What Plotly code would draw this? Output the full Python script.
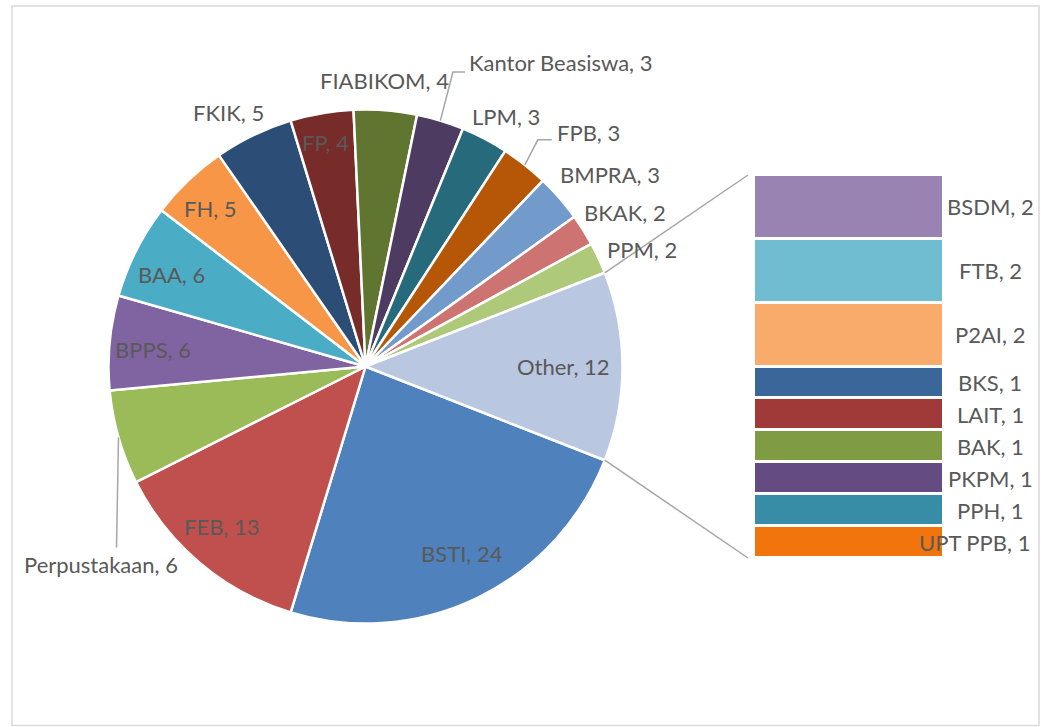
import math
import plotly.graph_objects as go

# data
main_labels = ["BSTI", "FEB", "Perpustakaan", "BPPS", "BAA", "FH", "FKIK", "FP",
               "FIABIKOM", "Kantor Beasiswa", "LPM", "FPB", "BMPRA", "BKAK", "PPM"]
main_values = [24, 13, 6, 6, 6, 5, 5, 4, 4, 3, 3, 3, 3, 2, 2]
other_labels = ["BSDM", "FTB", "P2AI", "BKS", "LAIT", "BAK", "PKPM", "PPH", "UPT PPB"]
other_values = [2, 2, 2, 1, 1, 1, 1, 1, 1]

pie_labels = main_labels + ["Other"]
pie_values = main_values + [sum(other_values)]

pie_colors = ["#4F81BD", "#C0504D", "#9BBB59", "#8064A2", "#4BACC6", "#F79646",
              "#2C4D75", "#772C2A", "#5F7530", "#4D3B62", "#276A7C", "#B65708",
              "#729ACA", "#CD7371", "#AFC97A", "#B9C7E0"]
bar_colors = ["#9983B3", "#70BCD1", "#F9AB6C", "#3A6699", "#9F3A38", "#7F9B43",
              "#644C82", "#368DA5", "#F2740D"]

# page geometry (pixels)
W, H = 1041, 727
CX, CY, R = 365.5, 366.5, 257
BAR_X0, BAR_X1, BAR_Y0, BAR_Y1 = 754, 944, 175, 558
TXT = "#595959"
FONT = "Lato"
FS = 22


def px(x, y):
    return x / W, 1 - y / H


# label placement: radial factor, nudge x, nudge y
label_style = {
    "BSTI": (0.82, 5, -3), "FEB": (0.84, -4, -5), "BPPS": (0.83, 0, 3),
    "BAA": (0.83, -3, 4), "FH": (0.86, -2, 2), "FP": (0.89, -1, 1),
    "FKIK": (1.125, -11, 6), "FIABIKOM": (1.117, -3, 0), "LPM": (1.116, 8, 4),
    "BMPRA": (1.21, 10, 12), "BKAK": (1.173, 4, 6), "PPM": (1.167, 5, 10),
    "Other": (0.77, 0, 0),
}
# labels with leader lines: elbow offsets from the slice edge, then text anchor
leader_style = {
    "Perpustakaan": ([(0, 0), (-2, 110)], (-18, 127), "center"),
    "Kantor Beasiswa": ([(0, 0), (12.6, -48.7), (24.6, -48.7)], (27, -58), "left"),
    "FPB": ([(0, 0), (13, -25), (27, -25)], (30, -32), "left"),
}

total = sum(pie_values)
rotation = 90 + 180 * pie_values[-1] / total  # "Other" centred at 3 o'clock

fig = go.Figure()

fig.add_trace(go.Pie(
    labels=pie_labels,
    values=pie_values,
    sort=False,
    direction="clockwise",
    rotation=rotation,
    textinfo="none",
    marker=dict(colors=pie_colors, line=dict(color="white", width=2.5)),
    domain=dict(x=[(CX - R) / W, (CX + R) / W], y=[1 - (CY + R) / H, 1 - (CY - R) / H]),
    showlegend=False,
    hovertemplate="%{label}, %{value}<extra></extra>",
))

for lab, val, col in zip(other_labels, other_values, bar_colors):
    fig.add_trace(go.Bar(
        x=[0], y=[val], width=[1], name=lab,
        marker=dict(color=col, line=dict(color="white", width=3.5)),
        showlegend=False,
        hovertemplate=lab + ", %{y}<extra></extra>",
    ))

annotations = []
shapes = []

# pie labels
start = rotation
for lab, val in zip(pie_labels, pie_values):
    span = 360 * val / total
    mid = math.radians(start + span / 2)
    start += span
    sx, sy = math.sin(mid), -math.cos(mid)
    if lab in leader_style:
        pts, (tx, ty), anchor = leader_style[lab]
        ex, ey = CX + R * sx, CY + R * sy
        path = ""
        for i, (dx, dy) in enumerate(pts):
            X, Y = px(ex + dx, ey + dy)
            path += ("M" if i == 0 else " L") + f" {X},{Y}"
        shapes.append(dict(type="path", xref="paper", yref="paper", path=path,
                           line=dict(color="#A6A6A6", width=1.5)))
        X, Y = px(ex + tx, ey + ty)
        annotations.append(dict(x=X, y=Y, xref="paper", yref="paper", text=f"{lab}, {val}",
                                showarrow=False, xanchor=anchor, yanchor="middle",
                                font=dict(family=FONT, size=FS, color=TXT)))
    else:
        f, dx, dy = label_style[lab]
        X, Y = px(CX + f * R * sx + dx, CY + f * R * sy + dy)
        annotations.append(dict(x=X, y=Y, xref="paper", yref="paper", text=f"{lab}, {val}",
                                showarrow=False, xanchor="center", yanchor="middle",
                                font=dict(family=FONT, size=FS, color=TXT)))

# bar labels
cum = 0
for lab, val in zip(other_labels, other_values):
    mid = cum + val / 2
    cum += val
    if lab == "UPT PPB":
        xa, xpos = "right", 1032 / W
    else:
        xa, xpos = "center", 990 / W
    annotations.append(dict(x=xpos, y=mid, xref="paper", yref="y", text=f"{lab}, {val}",
                            showarrow=False, xanchor=xa, yanchor="middle",
                            font=dict(family=FONT, size=FS, color=TXT)))

# connector lines from "Other" slice edges to bar corners
other_start = math.radians(rotation - 360 * pie_values[-1] / total)
other_end = math.radians(rotation)
for ang, by in [(other_start, BAR_Y0), (other_end, BAR_Y1)]:
    x0, y0 = px(CX + R * math.sin(ang), CY - R * math.cos(ang))
    x1, y1 = px(BAR_X0 - 6, by)
    shapes.append(dict(type="line", xref="paper", yref="paper", x0=x0, y0=y0, x1=x1, y1=y1,
                       line=dict(color="#A6A6A6", width=1.5)))

# chart border
bx0, by0 = px(12, 6)
bx1, by1 = px(1039, 725.5)
shapes.append(dict(type="rect", xref="paper", yref="paper", x0=bx0, y0=by1, x1=bx1, y1=by0,
                   line=dict(color="#D9D9D9", width=1.5)))

fig.update_layout(
    width=W, height=H,
    margin=dict(l=0, r=0, t=0, b=0),
    paper_bgcolor="white",
    plot_bgcolor="white",
    barmode="stack",
    bargap=0,
    xaxis=dict(domain=[BAR_X0 / W, BAR_X1 / W], range=[-0.5, 0.5], visible=False, fixedrange=True),
    yaxis=dict(domain=[1 - BAR_Y1 / H, 1 - BAR_Y0 / H], range=[sum(other_values), 0],
               visible=False, fixedrange=True),
    annotations=annotations,
    shapes=shapes,
    font=dict(family=FONT, size=FS, color=TXT),
)

fig.write_html("out.html", config={"displayModeBar": False},
               post_script="document.body.style.margin='0';")
